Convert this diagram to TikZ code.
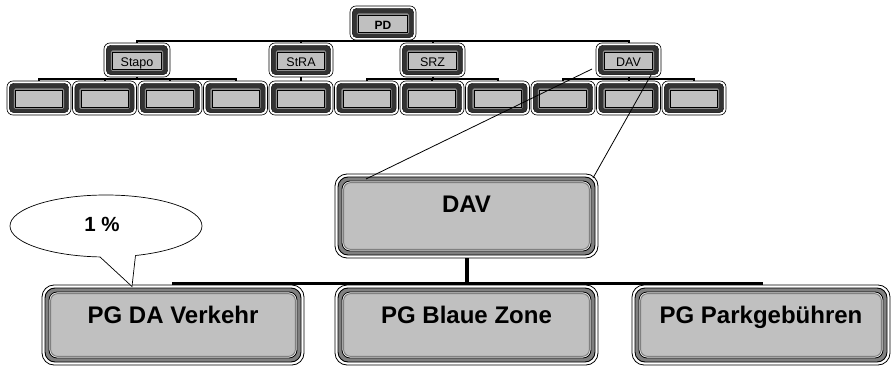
\documentclass[tikz,border=0pt]{standalone}
\usepackage{fontspec}
\setmainfont{Liberation Sans}
\usetikzlibrary{shapes.geometric,calc}
\definecolor{boxfill}{HTML}{C0C0C0}
\definecolor{band}{HTML}{333333}
\definecolor{midgray}{HTML}{8C8C8C}
\definecolor{bandgray}{HTML}{808080}
\tikzset{
  sbox/.style={rectangle, rounded corners=6pt, draw=black, line width=0.6pt, fill=white,
    minimum width=64pt, minimum height=34pt, inner sep=0pt, outer sep=0pt,
    text height=14pt, text depth=0pt, font=\fontsize{12.5}{14}\selectfont,
    path picture={
      \filldraw[fill=band, draw=black, line width=0.4pt, rounded corners=4.5pt]
        ([shift={(2.3pt,-2.3pt)}]path picture bounding box.north west) rectangle
        ([shift={(-2.3pt,2.3pt)}]path picture bounding box.south east);
      \fill[midgray, rounded corners=1.5pt]
        ([shift={(6.8pt,-7.5pt)}]path picture bounding box.north west) rectangle
        ([shift={(-6.8pt,6pt)}]path picture bounding box.south east);
      \filldraw[fill=boxfill, draw=black, line width=0.6pt, sharp corners]
        ([shift={(8.6pt,-9.6pt)}]path picture bounding box.north west) rectangle
        ([shift={(-8.6pt,7.8pt)}]path picture bounding box.south east);
    }},
  bbox/.style={rectangle, rounded corners=12pt, draw=black, line width=0.8pt, fill=white,
    minimum height=80pt, inner sep=0pt, outer sep=0pt, text height=0pt, text depth=4pt,
    font=\fontsize{24}{28}\selectfont\bfseries,
    path picture={
      \filldraw[fill=bandgray, draw=black, line width=0.9pt, rounded corners=10pt]
        ([shift={(3pt,-3pt)}]path picture bounding box.north west) rectangle
        ([shift={(-3pt,3pt)}]path picture bounding box.south east);
      \filldraw[fill=white, draw=black, line width=0.8pt, rounded corners=8pt]
        ([shift={(7pt,-7pt)}]path picture bounding box.north west) rectangle
        ([shift={(-7pt,7pt)}]path picture bounding box.south east);
      \filldraw[fill=boxfill, draw=bandgray, line width=1pt, rounded corners=7pt]
        ([shift={(8.6pt,-8.6pt)}]path picture bounding box.north west) rectangle
        ([shift={(-8.6pt,8.6pt)}]path picture bounding box.south east);
    }},
  tline/.style={line width=2pt},
  zline/.style={line width=0.8pt},
  bline/.style={line width=3pt},
}
\begin{document}
\begin{tikzpicture}[x=1pt,y=1pt]
\useasboundingbox (0,0) rectangle (891,-366);
% top tree
\node[sbox, minimum width=66pt, font=\fontsize{12}{14}\selectfont\bfseries] (pd) at (383,-23) {PD};
\node[sbox, minimum width=66pt] (stapo) at (137,-60) {Stapo};
\node[sbox] (stra) at (301,-60) {StRA};
\node[sbox, minimum width=65pt] (srz) at (432.5,-60) {SRZ};
\node[sbox, minimum width=65pt] (dav) at (628.5,-60) {DAV};
\node[sbox] (c1) at (39,-98) {};
\node[sbox] (c2) at (104.5,-98) {};
\node[sbox] (c3) at (170,-98) {};
\node[sbox] (c4) at (235.5,-98) {};
\node[sbox] (c5) at (301,-98) {};
\node[sbox] (c6) at (366.5,-98) {};
\node[sbox] (c7) at (432,-98) {};
\node[sbox] (c8) at (497.5,-98) {};
\node[sbox] (c9) at (563,-98) {};
\node[sbox] (c10) at (628.5,-98) {};
\node[sbox] (c11) at (694,-98) {};
\coordinate (busA) at ([yshift=2pt]stapo.north);
\draw[tline] (stapo.north) -- (busA) -| (dav.north);
\draw[tline] (pd.south) -- (pd.south |- busA);
\draw[tline] (stra.north) -- (stra.north |- busA);
\draw[tline] (srz.north) -- (srz.north |- busA);
\coordinate (busB) at ([yshift=-2pt]stapo.south);
\draw[tline] (stapo.south) -- (busB);
\draw[tline] (c1.north) -- (c1.north |- busB) -| (c4.north);
\draw[tline] (c2.north) -- (c2.north |- busB);
\draw[tline] (c3.north) -- (c3.north |- busB);
\draw[tline] (stra.south) -- (c5.north);
\draw[tline] (srz.south) -- (srz.south |- busB);
\draw[tline] (c6.north) -- (c6.north |- busB) -| (c8.north);
\draw[tline] (c7.north) -- (c7.north |- busB);
\draw[tline] (dav.south) -- (dav.south |- busB);
\draw[tline] (c9.north) -- (c9.north |- busB) -| (c11.north);
\draw[tline] (c10.north) -- (c10.north |- busB);
% bottom tree
\node[bbox, minimum width=263pt, minimum height=84pt, text depth=8pt] (bigdav) at (466.5,-216) {DAV};
\node[bbox, minimum width=262pt] (pg1) at (173,-325) {PG DA Verkehr};
\node[bbox, minimum width=263pt] (pg2) at (466.5,-325) {PG Blaue Zone};
\node[bbox, minimum width=258pt] (pg3) at (761,-325) {PG Parkgebühren};
\coordinate (busC) at ([yshift=2pt]pg1.north);
\draw[bline] (pg1.north) -- (busC) -| (pg3.north);
\draw[line width=4pt] (bigdav.south) -- (pg2.north);
% zoom lines
\draw[zline] ([shift={(-4pt,8pt)}]dav.south west) -- ([shift={(31pt,-5pt)}]bigdav.north west);
\draw[zline] ([shift={(-10pt,2pt)}]dav.south east) -- ([shift={(-5pt,-4pt)}]bigdav.north east);
% callout
\node[ellipse, draw, line width=0.7pt, fill=white, minimum width=192pt, minimum height=62pt, inner sep=0pt, outer sep=0pt] (co) at (106,-226) {};
\coordinate (tip) at ([shift={(90pt,-1.5pt)}]pg1.north west);
\fill[white] ($(co.center)!0.85!(co.259)$) -- (co.259) -- (tip) -- (co.315.5) -- ($(co.center)!0.85!(co.315.5)$) -- cycle;
\draw[line width=0.7pt, line join=miter] (co.259) -- (tip) -- (co.315.5);
\node[font=\fontsize{20.5}{24}\selectfont\bfseries, inner sep=0pt] (pct) at (102,-224.5) {1 \%};
\end{tikzpicture}
\end{document}
